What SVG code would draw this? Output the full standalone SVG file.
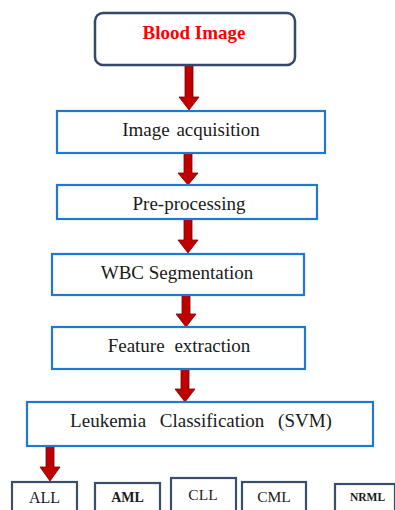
<svg xmlns="http://www.w3.org/2000/svg" width="395" height="510" viewBox="0 0 395 510">
<style>
  .t { font-family: 'Liberation Serif', 'DejaVu Serif', serif; fill: #1a1a1a; text-anchor: middle; }
  .step { fill: #ffffff; stroke: #1f78d1; stroke-width: 2.2; }
  .cls { fill: #ffffff; stroke: #3b4f6b; stroke-width: 2.2; }
  .arr { fill: #c00000; stroke: #7a0000; stroke-width: 0.8; }
</style>
<rect width="395" height="510" fill="#ffffff"/>

<g id="connectors">
  <path class="arr" d="M 185 65 L 193 65 L 193 97 L 199 97 L 189 110 L 179 97 L 185 97 Z"/>
  <path class="arr" d="M 184 153 L 192 153 L 192 173 L 198 173 L 188 185 L 178 173 L 184 173 Z"/>
  <path class="arr" d="M 184 219 L 192 219 L 192 240 L 198 240 L 188 253 L 178 240 L 184 240 Z"/>
  <path class="arr" d="M 182 295 L 190 295 L 190 314 L 196 314 L 186 327 L 176 314 L 182 314 Z"/>
  <path class="arr" d="M 181 369 L 189 369 L 189 389 L 195 389 L 185 402 L 175 389 L 181 389 Z"/>
  <path class="arr" d="M 46 446 L 54 446 L 54 467 L 60 467 L 50 481 L 40 467 L 46 467 Z"/>
</g>

<g id="blood-image">
  <rect x="95" y="13" width="200" height="52" rx="8" ry="8" fill="#ffffff" stroke="#34496a" stroke-width="2.5"/>
  <text class="t" x="194" y="39" font-family="Liberation Serif, serif" font-size="19" font-weight="bold" style="fill:#ff0000">Blood Image</text>
</g>

<g id="image-acquisition">
  <rect class="step" x="57" y="111" width="268" height="42"/>
  <text class="t" x="191" y="136" font-size="19" word-spacing="2">Image acquisition</text>
</g>

<g id="pre-processing">
  <rect class="step" x="57" y="185" width="260" height="34"/>
  <text class="t" x="189" y="210" font-size="19">Pre-processing</text>
</g>

<g id="wbc-segmentation">
  <rect class="step" x="52" y="254" width="252" height="41"/>
  <text class="t" x="177" y="279" font-size="19">WBC Segmentation</text>
</g>

<g id="feature-extraction">
  <rect class="step" x="52" y="327" width="253" height="42"/>
  <text class="t" x="179" y="352" font-size="19" word-spacing="5">Feature extraction</text>
</g>

<g id="leukemia-classification">
  <rect class="step" x="27" y="402" width="346" height="44"/>
  <text class="t" x="201" y="427" font-size="19" word-spacing="9">Leukemia Classification (SVM)</text>
</g>

<g id="all">
  <rect class="cls" x="12" y="482" width="65" height="40"/>
  <text class="t" x="44.5" y="503" font-size="16">ALL</text>
</g>
<g id="aml">
  <rect class="cls" x="95" y="483" width="65" height="40"/>
  <text class="t" x="127.5" y="502" font-size="14" font-weight="bold">AML</text>
</g>
<g id="cll">
  <rect class="cls" x="171" y="478" width="65" height="40"/>
  <text class="t" x="203" y="500" font-size="15.5">CLL</text>
</g>
<g id="cml">
  <rect class="cls" x="242" y="482" width="64" height="40"/>
  <text class="t" x="274" y="502" font-size="15.5">CML</text>
</g>
<g id="nrml">
  <rect class="cls" x="335" y="484" width="60" height="40"/>
  <text class="t" x="367.5" y="501" font-size="11.5" font-weight="bold">NRML</text>
</g>
</svg>
